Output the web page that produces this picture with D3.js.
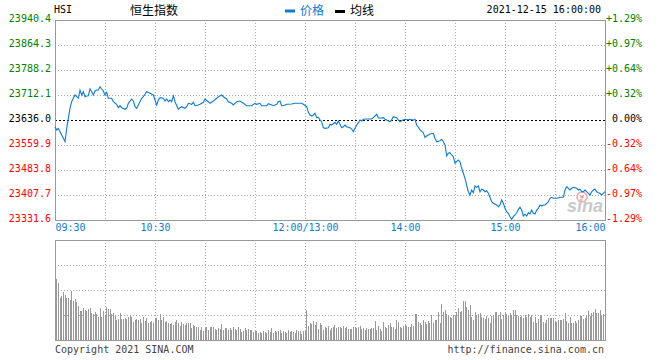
<!DOCTYPE html>
<html><head><meta charset="utf-8">
<script src="https://cdn.jsdelivr.net/npm/d3@7/dist/d3.min.js"></script>
<style>
html,body{margin:0;padding:0;background:#fff;}
svg{display:block;}
text{font-family:"DejaVu Sans Mono","Liberation Mono",monospace;font-size:10px;}
.cjk{font-family:"Noto Sans CJK SC",sans-serif;font-size:12px;}
</style></head>
<body>
<svg id="chart" width="660" height="360"></svg>
<script>
// ---------- data ----------
const symbol = "HSI";
const indexName = "恒生指数";
const stamp = "2021-12-15 16:00:00";
const prevClose = 23636.0;
const yTicks = [23940.4, 23864.3, 23788.2, 23712.1, 23636.0, 23559.9, 23483.8, 23407.7, 23331.6];
const pctTicks = ["+1.29%","+0.97%","+0.64%","+0.32%","0.00%","-0.32%","-0.64%","-0.97%","-1.29%"];
const timeTickMinutes = [0, 60, 150, 210, 270, 330];
const timeTickLabels = ["09:30","10:30","12:00/13:00","14:00","15:00","16:00"];
const gridMinutes = [30,60,90,120,150,180,210,240,270,300];
// trading minute since 09:30 (lunch removed) and index level
const tradeMinute = [0,1,2,3,4,6,7,8,9,10,11,12,13,14,15,16,17,18,19,20,21,22,23,24,25,26,27,28,29,30,31,32,34,35,37,38,39,40,42,43,44,46,47,48,49,50,52,53,55,57,59,60,61,62,63,65,66,67,68,69,70,71,72,74,75,76,78,79,80,82,83,84,86,87,89,90,92,93,95,97,98,100,101,103,104,106,107,108,109,111,113,115,118,120,121,123,124,127,128,130,131,133,134,135,136,137,139,142,144,148,149,
151,152,153,154,155,156,157,158,159,160,161,162,164,165,166,168,169,170,171,172,173,174,175,177,178,179,180,181,182,183,184,185,187,190,191,193,194,195,197,198,199,201,202,203,205,206,207,209,210,212,213,215,216,217,218,
219,221,222,223,225,227,228,229,231,232,233,234,235,236,237,238,239,240,241,242,243,244,245,246,247,248,249,250,251,252,253,254,255,256,257,258,259,260,261,262,263,265,266,267,268,269,270,271,272,273,274,275,276,277,278,279,280,281,282,283,284,285,286,287,288,289,290,291,292,293,294,295,296,297,298,299,301,303,305,306,307,308,309,310,311,313,314,315,316,317,318,319,320,321,322,323,324,325,326,327,328,329,330];
const indexLevel = [23615.6,23605.6,23610.7,23600.4,23590.3,23569.9,23610.7,23641.2,23671.6,23691.7,23702.1,23712.1,23706.9,23702.1,23727.3,23712.1,23722.1,23706.9,23709.1,23710.0,23730.4,23722.1,23712.1,23724.3,23727.3,23727.3,23737.4,23730.4,23724.3,23712.1,23720.3,23702.1,23702.1,23691.7,23683.8,23673.4,23679.5,23673.4,23668.6,23671.6,23686.8,23699.9,23693.8,23676.5,23671.6,23681.7,23702.1,23706.9,23722.1,23717.3,23712.1,23696.9,23681.7,23696.9,23703.9,23702.1,23693.8,23699.9,23691.7,23696.9,23691.7,23710.0,23691.7,23668.6,23673.4,23676.5,23671.6,23676.5,23686.8,23683.8,23689.9,23679.5,23681.7,23683.8,23689.9,23699.9,23691.7,23686.8,23693.8,23702.1,23706.9,23712.1,23706.9,23699.9,23691.7,23686.8,23681.7,23686.8,23691.7,23693.8,23686.8,23679.5,23679.5,23686.8,23683.8,23686.8,23679.5,23679.5,23685.6,23681.7,23679.5,23683.8,23691.7,23693.8,23679.5,23679.5,23683.8,23684.7,23686.8,23686.8,23683.8,
23676.5,23659.4,23651.2,23648.2,23651.2,23656.4,23643.0,23644.2,23636.0,23630.8,23612.6,23610.7,23612.6,23622.9,23620.8,23629.0,23622.9,23633.0,23622.9,23612.6,23615.6,23620.8,23615.6,23612.6,23608.6,23600.4,23610.7,23620.8,23627.8,23636.0,23633.0,23638.1,23639.0,23639.0,23643.0,23653.4,23643.0,23641.2,23643.0,23638.1,23636.0,23630.8,23636.0,23646.0,23643.0,23636.0,23630.8,23636.9,23638.1,23636.9,23638.1,23636.0,23638.1,23620.8,23613.8,
23605.6,23597.3,23583.3,23587.3,23593.4,23595.5,23580.3,23569.9,23573.0,23577.3,23569.9,23559.9,23526.4,23534.6,23536.5,23529.5,23524.3,23504.2,23509.1,23514.2,23509.1,23489.0,23473.8,23458.5,23438.1,23417.7,23407.7,23422.9,23414.7,23435.1,23431.1,23435.1,23417.7,23425.1,23422.9,23417.7,23420.8,23412.9,23400.7,23387.3,23382.4,23377.3,23372.1,23377.3,23392.5,23382.4,23367.2,23356.9,23352.0,23341.6,23333.7,23341.6,23346.8,23353.8,23364.2,23370.3,23362.0,23343.8,23349.9,23343.8,23353.8,23349.9,23362.0,23352.0,23349.9,23362.0,23367.2,23377.3,23374.2,23377.3,23377.3,23382.4,23387.3,23397.7,23400.7,23397.7,23397.7,23400.7,23400.7,23422.9,23433.0,23428.1,23422.9,23428.1,23431.1,23428.1,23422.9,23425.1,23417.7,23417.7,23422.9,23417.7,23412.9,23407.7,23417.7,23422.9,23425.1,23417.7,23414.7,23412.9,23407.7,23412.9,23417.7];
// per-minute volume (relative units), morning 09:31-12:00 then afternoon 13:01-16:00
const volumeAM = [61,57,42,44,48,45,42,42,40,49,39,41,38,34,29,29,32,30,29,31,32,27,26,28,26,23,32,23,29,25,33,31,31,26,27,24,20,21,27,21,21,22,21,23,24,23,18,20,21,20,21,17,23,19,22,17,18,19,17,21,22,20,26,20,23,18,19,17,16,17,15,18,20,17,14,18,16,15,17,17,17,12,15,14,13,13,10,13,9,12,13,10,13,13,13,11,10,12,11,16,10,12,12,10,12,10,13,11,10,13,11,8,9,12,10,11,10,10,8,9,9,7,8,7,9,8,7,10,8,12,7,9,8,9,10,7,9,8,7,10,8,9,8,7,10,9,9,6,9,9];
const volumePM = [30,14,17,16,19,15,18,11,17,15,10,13,12,14,
10,12,13,15,12,13,13,12,14,12,13,11,11,11,13,13,12,13,14,11,12,10,12,11,11,12,12,19,10,14,11,9,18,13,12,15,17,13,13,11,20,18,13,12,14,15,14,13,13,16,14,26,26,18,17,15,20,18,16,19,17,25,17,20,20,28,17,36,28,30,26,24,23,22,25,24,28,32,28,29,39,39,33,30,35,23,20,28,25,26,27,23,22,21,24,22,17,24,25,28,28,25,28,21,25,27,26,24,27,25,30,30,25,24,23,24,22,25,23,26,23,25,18,23,17,21,25,24,18,17,20,22,22,22,22,18,18,20,20,20,21,27,19,17,23,17,17,19,17,20,24,24,21,22,25,29,24,27,28,31,27,27,30,24,26,40];

// ---------- layout ----------
const svg = d3.select("#chart");
const L = 55, R = 605, T = 20, B = 220, VT = 240, VB = 340;
const blue = "#0f7bd2", green = "#008000", red = "#ff0000", gridC = "#aaaaaa", frameC = "#999999";

const x = d3.scaleLinear().domain([0, 330]).range([L, R]);
const y = d3.scaleLinear().domain([yTicks[yTicks.length-1], yTicks[0]]).range([B, T]);
const yv = d3.scaleLinear().domain([0, 100]).range([VB, VT]);
const volTicks = [25, 50, 75];

const priceData = tradeMinute.map((m, i) => ({m, v: indexLevel[i]}));
const volData = volumeAM.map((v, i) => ({m: i + 1, v})).concat(volumePM.map((v, i) => ({m: 151 + i, v})));

// ---------- header ----------
svg.append("text").attr("x", 54).attr("y", 13).text(symbol).attr("fill", "#000");
svg.append("text").attr("class", "cjk").attr("x", 130).attr("y", 14.5).text(indexName).attr("fill", "#000");
svg.append("rect").attr("x", 285).attr("y", 9.5).attr("width", 10).attr("height", 3).attr("fill", blue);
svg.append("text").attr("class", "cjk").attr("x", 300).attr("y", 14.5).text("价格").attr("fill", blue);
svg.append("rect").attr("x", 335).attr("y", 10).attr("width", 10).attr("height", 3).attr("fill", "#000");
svg.append("text").attr("class", "cjk").attr("x", 350).attr("y", 14.5).text("均线").attr("fill", "#000");
svg.append("text").attr("x", 601).attr("y", 13).attr("text-anchor", "end").text(stamp).attr("fill", "#000");

// ---------- price panel grid ----------
const g = svg.append("g").attr("shape-rendering", "crispEdges");
g.selectAll(".hg").data(yTicks.filter(d => d !== prevClose && d !== yTicks[0] && d !== yTicks[yTicks.length-1]))
  .join("line").attr("x1", L).attr("x2", R).attr("y1", d => Math.round(y(d)) + 0.5).attr("y2", d => Math.round(y(d)) + 0.5)
  .attr("stroke", gridC).attr("stroke-dasharray", "1,2");
g.selectAll(".vg").data(gridMinutes).join("line")
  .attr("x1", d => Math.round(x(d)) + 0.5).attr("x2", d => Math.round(x(d)) + 0.5).attr("y1", T).attr("y2", B)
  .attr("stroke", gridC).attr("stroke-dasharray", "1,2");

// watermark
const wm = svg.append("g");
wm.append("circle").attr("cx", 582).attr("cy", 197).attr("r", 5).attr("fill", "none").attr("stroke", "#f2a6a6").attr("stroke-width", 1.5);
wm.append("circle").attr("cx", 582).attr("cy", 197).attr("r", 1.8).attr("fill", "#f2a6a6");
wm.append("text").attr("x", 567).attr("y", 212).text("sina")
  .attr("style", "font-family:'Liberation Sans',Arial,sans-serif;font-size:18px;font-weight:bold;font-style:italic;fill:#c9c9c9");

// previous close dashed line
g.append("line").attr("x1", L).attr("x2", R).attr("y1", Math.round(y(prevClose)) + 0.5).attr("y2", Math.round(y(prevClose)) + 0.5)
  .attr("stroke", "#000").attr("stroke-dasharray", "2,2");

// price line
svg.append("path").datum(priceData)
  .attr("d", d3.line().x(d => x(d.m)).y(d => y(d.v)))
  .attr("fill", "none").attr("stroke", blue).attr("stroke-width", 1.1);

// frame
g.append("rect").attr("x", L + 0.5).attr("y", T + 0.5).attr("width", R - L).attr("height", B - T)
  .attr("fill", "none").attr("stroke", frameC);

// y axes
const axL = svg.append("g").attr("transform", `translate(${L},0)`)
  .call(d3.axisLeft(y).tickValues(yTicks).tickSize(0).tickPadding(4).tickFormat(d3.format(".1f")));
axL.select(".domain").remove();
axL.selectAll("text").attr("dy", "0.1em").attr("font-size", null).attr("font-family", null)
  .attr("fill", d => d > prevClose ? green : d < prevClose ? red : "#000");

const axR = svg.append("g").attr("transform", `translate(${R},0)`)
  .call(d3.axisRight(y).tickValues(yTicks).tickSize(0).tickFormat((d, i) => pctTicks[i]));
axR.select(".domain").remove();
axR.selectAll("text").attr("dy", "0.1em").attr("x", 37).attr("text-anchor", "end").attr("font-size", null).attr("font-family", null)
  .attr("fill", d => d > prevClose ? green : d < prevClose ? red : "#000");

// x axis labels
const axB = svg.append("g").attr("transform", `translate(0,${B})`)
  .call(d3.axisBottom(x).tickValues(timeTickMinutes).tickSize(0).tickPadding(2).tickFormat((d, i) => timeTickLabels[i]));
axB.select(".domain").remove();
axB.selectAll("text").attr("dy", "0.9em").attr("font-size", null).attr("font-family", null).attr("fill", blue)
  .attr("text-anchor", (d, i) => i === 0 ? "start" : i === timeTickMinutes.length - 1 ? "end" : "middle");

// ---------- volume panel ----------
const gv = svg.append("g").attr("shape-rendering", "crispEdges");
gv.selectAll(".vh").data(volTicks).join("line").attr("x1", L).attr("x2", R)
  .attr("y1", d => Math.round(yv(d)) + 0.5).attr("y2", d => Math.round(yv(d)) + 0.5)
  .attr("stroke", gridC).attr("stroke-dasharray", "1,2");
gv.selectAll(".vv").data(gridMinutes).join("line")
  .attr("x1", d => Math.round(x(d)) + 0.5).attr("x2", d => Math.round(x(d)) + 0.5).attr("y1", VT).attr("y2", VB)
  .attr("stroke", gridC).attr("stroke-dasharray", "1,2");
gv.selectAll(".bar").data(volData).join("rect")
  .attr("x", d => Math.floor(x(d.m))).attr("width", 1)
  .attr("y", d => yv(d.v)).attr("height", d => VB - yv(d.v))
  .attr("fill", "#9a9a9a");
gv.append("rect").attr("x", L + 0.5).attr("y", VT + 0.5).attr("width", R - L).attr("height", VB - VT)
  .attr("fill", "none").attr("stroke", frameC);

// footer
svg.append("text").attr("x", 55).attr("y", 353).text("Copyright 2021 SINA.COM").attr("fill", "#444");
svg.append("text").attr("x", 604).attr("y", 353).attr("text-anchor", "end").text("http://finance.sina.com.cn").attr("fill", "#444");
</script>
</body></html>
